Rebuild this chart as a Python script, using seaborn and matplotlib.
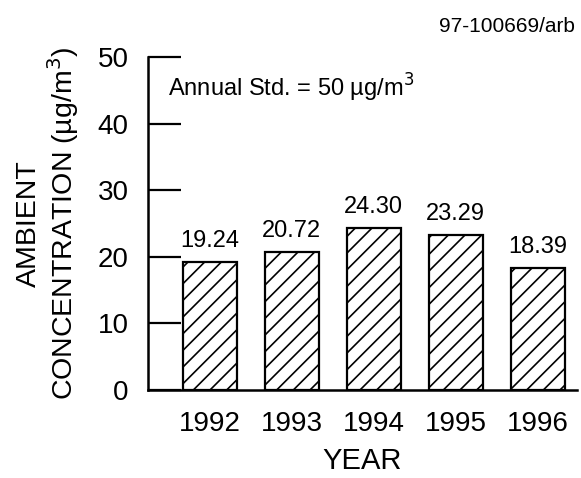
import matplotlib
matplotlib.use("Agg")
import matplotlib.pyplot as plt
import seaborn as sns
import pandas as pd

years = ["1992", "1993", "1994", "1995", "1996"]
values = [19.24, 20.72, 24.30, 23.29, 18.39]
value_labels = ["19.24", "20.72", "24.30", "23.29", "18.39"]
yticks = [0, 10, 20, 30, 40, 50]

sns.set_style("white")
plt.rcParams['font.family'] = ['Liberation Sans', 'DejaVu Sans']
plt.rcParams['hatch.linewidth'] = 1.2
plt.rcParams['hatch.color'] = 'black'
plt.rcParams['text.color'] = 'black'
plt.rcParams['axes.labelcolor'] = 'black'
plt.rcParams['xtick.color'] = 'black'
plt.rcParams['ytick.color'] = 'black'

df = pd.DataFrame({"year": years, "value": values})

fig = plt.figure(figsize=(5.81, 4.78), dpi=100)
ax = fig.add_axes([0.2547, 0.184, 0.738, 0.697])

sns.barplot(data=df, x="year", y="value", color="white", edgecolor="black",
            linewidth=1.6, width=0.66, hatch="//", ax=ax, saturation=1)

ax.set_ylim(0, 50)
ax.set_xlim(-0.756, 4.476)
ax.set_yticks(yticks)
ax.set_yticklabels([str(t) for t in yticks], fontsize=20)
ax.tick_params(axis='y', direction='in', length=24, width=1.6, pad=14, left=True)
ax.tick_params(axis='x', length=0, pad=15, labelsize=20)

for s in ["top", "right"]:
    ax.spines[s].set_visible(False)
for s in ["left", "bottom"]:
    ax.spines[s].set_linewidth(1.8)
    ax.spines[s].set_color("black")

for i, (v, lab) in enumerate(zip(values, value_labels)):
    ax.annotate(lab, (i, v), xytext=(0, 7), textcoords="offset points",
                ha="center", va="bottom", fontsize=17)

ax.set_xlabel("YEAR", fontsize=21, labelpad=7)
ax.set_ylabel("AMBIENT\nCONCENTRATION (µg/m$^3$)", fontsize=20.5, labelpad=12,
              linespacing=1.12)

ax.text(0.047, 0.907, "Annual Std. = 50 µg/m$^3$", transform=ax.transAxes,
        fontsize=17, ha="left", va="center")
fig.text(0.99, 0.944, "97-100669/arb", fontsize=15, ha="right", va="center")

fig.savefig("out.png", dpi=100)
